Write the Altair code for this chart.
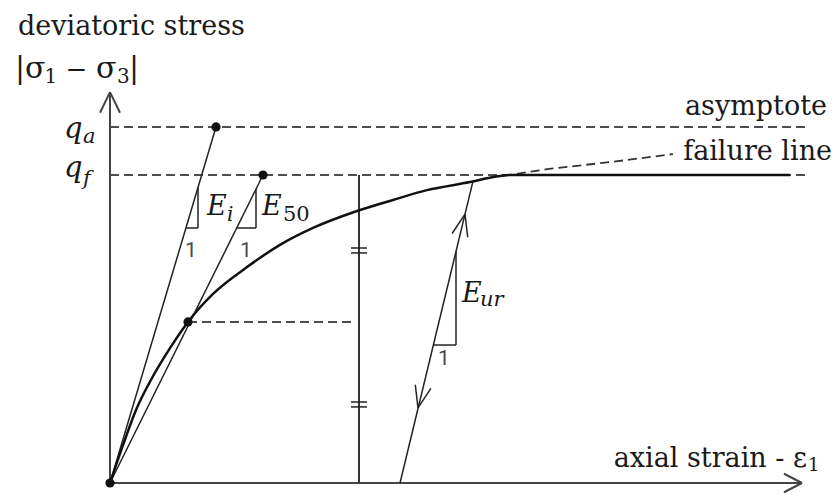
import altair as alt
import pandas as pd

# Hyperbolic stress-strain relation (schematic). Strain in arbitrary units,
# deviatoric stress normalised so that the failure value q_f = 1.
X_DOMAIN = [0, 7.2]
Y_DOMAIN = [0, 1.552]

q_f = 1.0
q_a = 1.156
q_50 = 0.523
strain_50 = 0.78

# primary loading curve, continuing as the horizontal failure line
curve_strain = [0, 0.13, 0.26, 0.42, 0.60, 0.78, 1.03, 1.37, 1.70, 2.03,
                2.47, 2.83, 3.17, 3.60, 3.85, 4.00, 6.80]
curve_q = [0, 0.123, 0.237, 0.341, 0.438, 0.523, 0.614, 0.701, 0.773, 0.828,
           0.883, 0.919, 0.951, 0.977, 0.994, 1.0, 1.0]

# hyperbola continued beyond failure towards the asymptote (dashed)
ext_strain = [3.93, 4.37, 5.03, 5.63]
ext_q = [0.997, 1.019, 1.043, 1.068]

# marked points: origin, q_a on the E_i tangent, q_f on the E_50 secant, q_50
dot_strain = [0, 1.06, 1.53, strain_50]
dot_q = [0, q_a, q_f, q_50]

# dashed reference lines (x0, x1, level)
dashed_h = [(0, 7.0, q_a), (0, 7.0, q_f), (strain_50, 2.45, q_50)]

# thin solid segments (x0, y0, x1, y1)
thin_segments = [
    (0, 0, 1.06, q_a),            # E_i tangent
    (0, 0, 1.53, q_f),            # E_50 secant
    (2.90, 0, 3.63, 0.98),        # unloading / reloading branch
    # slope triangles
    (0.76, 0.828, 0.88, 0.828), (0.88, 0.828, 0.88, 0.96),
    (1.267, 0.828, 1.46, 0.828), (1.46, 0.828, 1.46, 0.954),
    (3.234, 0.448, 3.46, 0.448), (3.46, 0.448, 3.46, 0.752),
    # direction chevrons on the unloading branch
    (3.55, 0.873, 3.577, 0.798), (3.55, 0.873, 3.421, 0.810),
    (3.08, 0.244, 3.209, 0.307), (3.08, 0.244, 3.053, 0.319),
    # break marks on the vertical
    (2.41, 0.763, 2.57, 0.763), (2.41, 0.747, 2.57, 0.747),
    (2.41, 0.263, 2.57, 0.263), (2.41, 0.247, 2.57, 0.247),
]

# vertical at the strain where q_f is read, and the axes with arrowheads
mid_segments = [(2.49, 0, 2.49, q_f)]
axis_segments = [
    (0, 0, 0, 1.269), (0, 1.269, -0.10, 1.202), (0, 1.269, 0.10, 1.202),
    (0, 0, 6.92, 0), (6.92, 0, 6.74, 0.030), (6.92, 0, 6.74, -0.030),
]

# labels: (text, x, baseline y, font size, align)
serif_labels = [
    ("deviatoric stress", -0.92, 1.455, 27, "left"),
    ("|σ", -0.95, 1.315, 30, "left"),
    ("1", -0.655, 1.299, 20, "left"),
    ("−", -0.445, 1.315, 26, "left"),
    ("σ", -0.14, 1.315, 30, "left"),
    ("3", 0.07, 1.299, 20, "left"),
    ("|", 0.19, 1.315, 30, "left"),
    ("asymptote", 7.17, 1.195, 27, "right"),
    ("failure line", 7.22, 1.049, 27, "right"),
    ("axial strain - ε", 6.97, 0.052, 27, "right"),
    ("1", 6.98, 0.040, 18, "left"),
    ("50", 1.73, 0.852, 21, "left"),
]
italic_labels = [
    ("q", -0.46, 1.120, 29, "left"), ("a", -0.27, 1.105, 21, "left"),
    ("q", -0.46, 0.994, 29, "left"), ("f", -0.27, 0.968, 21, "left"),
    ("E", 0.97, 0.870, 27, "left"), ("i", 1.17, 0.852, 20, "left"),
    ("E", 1.52, 0.870, 27, "left"),
    ("E", 3.52, 0.588, 27, "left"), ("ur", 3.70, 0.575, 21, "left"),
]
unit_labels = [
    ("1", 0.75, 0.734, 21, "left"),
    ("1", 1.30, 0.734, 21, "left"),
    ("1", 3.28, 0.383, 21, "left"),
]

SERIF = "DejaVu Serif"
SANS = "Roboto"

xs = alt.Scale(domain=X_DOMAIN, nice=False, zero=False)
ys = alt.Scale(domain=Y_DOMAIN, nice=False, zero=False)


def seg_df(rows):
    return pd.DataFrame(rows, columns=["x", "y", "x2", "y2"])


def seg_layer(rows, width, color, dash=None):
    kw = dict(strokeWidth=width, color=color)
    if dash:
        kw["strokeDash"] = dash
    return alt.Chart(seg_df(rows)).mark_rule(**kw).encode(
        x=alt.X("x:Q", scale=xs, axis=None),
        y=alt.Y("y:Q", scale=ys, axis=None),
        x2="x2:Q", y2="y2:Q",
    )


def text_layer(rows, font, style, color):
    layers = []
    for align in ("left", "right"):
        sub = [r[:4] for r in rows if r[4] == align]
        if not sub:
            continue
        df = pd.DataFrame(sub, columns=["label", "x", "y", "size"])
        layers.append(
            alt.Chart(df).mark_text(
                align=align, baseline="alphabetic", font=font, fontStyle=style, color=color
            ).encode(
                x=alt.X("x:Q", scale=xs, axis=None),
                y=alt.Y("y:Q", scale=ys, axis=None),
                text="label:N",
                size=alt.Size("size:Q", scale=None),
            )
        )
    return alt.layer(*layers)


dashed = seg_layer([(a, q, b, q) for a, b, q in dashed_h], 2.0, "#4d4d4d", [9, 5])

ext = alt.Chart(pd.DataFrame({"x": ext_strain, "y": ext_q})).mark_line(
    color="#333333", strokeWidth=1.8, strokeDash=[9, 5]
).encode(x=alt.X("x:Q", scale=xs, axis=None), y=alt.Y("y:Q", scale=ys, axis=None))

curve = alt.Chart(pd.DataFrame({"x": curve_strain, "y": curve_q, "i": range(len(curve_q))})).mark_line(
    color="#111111", strokeWidth=2.5, interpolate="monotone"
).encode(
    x=alt.X("x:Q", scale=xs, axis=None),
    y=alt.Y("y:Q", scale=ys, axis=None),
    order="i:Q",
)

thin = seg_layer(thin_segments, 1.5, "#222222")
mid = seg_layer(mid_segments, 2.0, "#333333")
axes = seg_layer(axis_segments, 2.0, "#444444")

dots = alt.Chart(pd.DataFrame({"x": dot_strain, "y": dot_q})).mark_circle(
    color="#111111", size=85, opacity=1
).encode(x=alt.X("x:Q", scale=xs, axis=None), y=alt.Y("y:Q", scale=ys, axis=None))

texts = alt.layer(
    text_layer(serif_labels, SERIF, "normal", "#1a1a1a"),
    text_layer(italic_labels, SERIF, "italic", "#1a1a1a"),
    text_layer(unit_labels, SANS, "normal", "#4a4a4a"),
)

chart = alt.layer(dashed, ext, axes, mid, thin, curve, dots, texts).properties(
    width=720,
    height=478,
    padding={"left": 110, "top": 5, "right": 7, "bottom": 13},
    autosize=alt.AutoSizeParams(type="none"),
    background="white",
).configure_view(stroke=None)

chart.save("out.html", embed_options={"renderer": "svg", "actions": False})
